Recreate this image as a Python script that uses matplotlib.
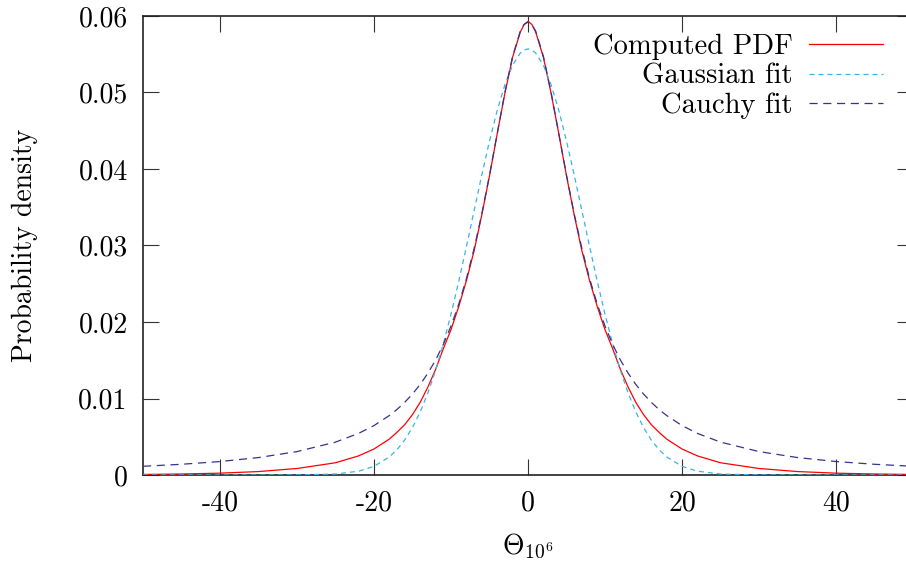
import matplotlib
matplotlib.use('Agg')
import matplotlib.pyplot as plt

plt.rcParams['font.family'] = 'cmr10'
plt.rcParams['mathtext.fontset'] = 'cm'
plt.rcParams['axes.unicode_minus'] = False
plt.rcParams['font.size'] = 20

# valeurs
theta = [-50, -45, -40, -35, -30, -25, -22, -20, -18, -17, -16, -15, -14, -13, -12, -11,
         -10, -9, -8, -7, -6, -5, -4, -3, -2, -1, -0.5, 0, 0.5, 1, 2, 3, 4, 5, 6, 7, 8, 9,
         10, 11, 12, 13, 14, 15, 16, 17, 18, 20, 22, 25, 30, 35, 40, 45, 50]

pdf_computed = [0.00007, 0.00013, 0.00024, 0.00045, 0.00085, 0.0016, 0.0025, 0.0034, 0.0047,
                0.0056, 0.0066, 0.0079, 0.0095, 0.0115, 0.0138, 0.0165, 0.0190, 0.0220, 0.0254,
                0.0293, 0.0340, 0.0391, 0.0446, 0.0499, 0.0546, 0.0579, 0.0589, 0.0593, 0.0589,
                0.0579, 0.0546, 0.0499, 0.0446, 0.0391, 0.0340, 0.0293, 0.0254, 0.0220, 0.0190,
                0.0165, 0.0138, 0.0115, 0.0095, 0.0079, 0.0066, 0.0056, 0.0047, 0.0034, 0.0025,
                0.0016, 0.00085, 0.00045, 0.00024, 0.00013, 0.00007]

gauss_fit = [0.0, 0.0, 0.0, 0.0, 0.00001, 0.00013, 0.00050, 0.00113, 0.00237, 0.00333, 0.00459,
             0.00622, 0.00824, 0.01073, 0.01369, 0.01713, 0.02102, 0.02529, 0.02985, 0.03455,
             0.03922, 0.04365, 0.04766, 0.05102, 0.05357, 0.05516, 0.05556, 0.0557, 0.05556,
             0.05516, 0.05357, 0.05102, 0.04766, 0.04365, 0.03922, 0.03455, 0.02985, 0.02529,
             0.02102, 0.01713, 0.01369, 0.01073, 0.00824, 0.00622, 0.00459, 0.00333, 0.00237,
             0.00113, 0.00050, 0.00013, 0.00001, 0.0, 0.0, 0.0, 0.0]

cauchy_fit = [0.00114, 0.00140, 0.00176, 0.00228, 0.00306, 0.00430, 0.00544, 0.00646, 0.00778,
              0.00858, 0.00951, 0.01059, 0.01184, 0.01331, 0.01503, 0.01706, 0.01947, 0.02231,
              0.02567, 0.0296, 0.03413, 0.03920, 0.04463, 0.05001, 0.05473, 0.05802, 0.0589,
              0.0592, 0.0589, 0.05802, 0.05473, 0.05001, 0.04463, 0.03920, 0.03413, 0.0296,
              0.02567, 0.02231, 0.01947, 0.01706, 0.01503, 0.01331, 0.01184, 0.01059, 0.00951,
              0.00858, 0.00778, 0.00646, 0.00544, 0.00430, 0.00306, 0.00228, 0.00176, 0.00140,
              0.00114]

x_ticks = [-40, -20, 0, 20, 40]
y_ticks = [0, 0.01, 0.02, 0.03, 0.04, 0.05, 0.06]
y_tick_labels = ['0', '0.01', '0.02', '0.03', '0.04', '0.05', '0.06']

fig = plt.figure(figsize=(9.06, 5.69), dpi=100)
ax = fig.add_axes([143 / 906, 94 / 569, 770 / 906, 459 / 569])

ax.plot(theta, pdf_computed, color='#ff0000', lw=0.9, label='Computed PDF', zorder=3)
ax.plot(theta, gauss_fit, color='#3ab4e6', lw=0.9, dashes=(4, 3.2), label='Gaussian fit', zorder=4)
ax.plot(theta, cauchy_fit, color='#34348f', lw=0.9, dashes=(6.5, 4.5), label='Cauchy fit', zorder=5)

ax.set_xlim(-50, 50)
ax.set_ylim(0, 0.06)
ax.set_xticks(x_ticks)
ax.set_xticklabels([str(t) for t in x_ticks])
ax.set_yticks(y_ticks)
ax.set_yticklabels(y_tick_labels)
ax.tick_params(direction='in', length=11.5, width=0.8, top=True, right=True, color='#333333')
ax.tick_params(axis='x', pad=11)
ax.tick_params(axis='y', pad=11)
for s in ax.spines.values():
    s.set_linewidth(1.2)
    s.set_color('#222222')

ax.set_xlabel(r'$\Theta_{10^6}$')
ax.xaxis.set_label_coords(0.5, -0.124)
ax.set_ylabel('Probability density')
ax.yaxis.set_label_coords(-0.137, 0.5)

leg = ax.legend(loc='upper right', bbox_to_anchor=(883 / 906, 1 - 34 / 569),
                bbox_transform=fig.transFigure, frameon=False, markerfirst=False,
                borderpad=0, borderaxespad=0, handlelength=2.6, handletextpad=0.55,
                labelspacing=0.1, fontsize=20.6)

fig.savefig('out.png', dpi=100)
